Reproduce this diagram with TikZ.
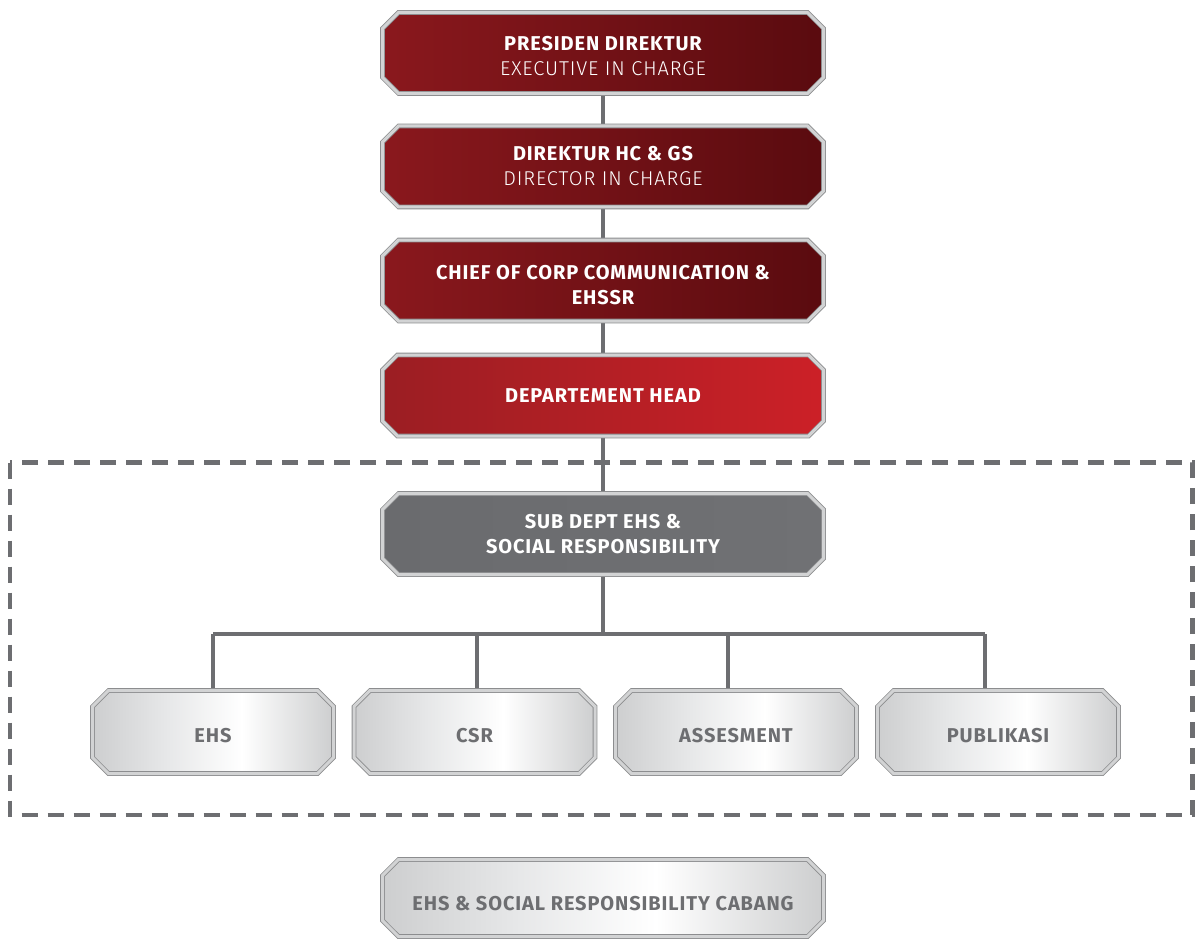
\documentclass[tikz,border=0pt]{standalone}
\usepackage{fontspec}
\setmainfont{Fira Sans}[LetterSpace=4.5]
\newfontfamily\lightf{Fira Sans Light}[LetterSpace=4.5]
\usetikzlibrary{shapes.misc,calc}
\definecolor{lineg}{HTML}{6D6E71}
\definecolor{rdL}{HTML}{8A181D}
\definecolor{rdR}{HTML}{5A0B0F}
\definecolor{dhL}{HTML}{9B1E23}
\definecolor{dhR}{HTML}{CC2027}
\definecolor{grL}{HTML}{6A6B6E}
\definecolor{grR}{HTML}{707174}
\definecolor{ltE}{HTML}{CDCECF}
\definecolor{ltM}{HTML}{E6E7E8}
\definecolor{rimO}{HTML}{8C8D8F}
\definecolor{rimI}{HTML}{D2D3D4}
\definecolor{txg}{HTML}{6D6E71}
\pgfdeclarehorizontalshading{liteshade}{100bp}{color(0bp)=(ltE); color(25bp)=(ltE); color(40bp)=(ltM); color(56bp)=(white); color(75bp)=(ltE); color(100bp)=(ltE)}
\newcommand{\dropline}[1]{\rule{0pt}{#1}}
\tikzset{
  boxbase/.style={chamfered rectangle, chamfered rectangle xsep=8pt, chamfered rectangle ysep=8pt,
    draw=rimO, double=rimI, double distance=3pt, line width=0.8pt,
    minimum width=441pt, minimum height=81pt, inner sep=0pt, align=center,
    font=\fontsize{20}{25}\selectfont\bfseries},
  redbox/.style={boxbase, left color=rdL, right color=rdR, text=white},
  dhbox/.style={boxbase, left color=dhL, right color=dhR, text=white},
  graybox/.style={boxbase, left color=grL, right color=grR, text=white},
  litebox/.style={boxbase, shading=liteshade, shading angle=0, text=txg},
  smallbox/.style={litebox, minimum width=241pt, minimum height=83pt},
  conn/.style={draw=lineg, line width=4pt},
  frame/.style={draw=lineg, line width=4.5pt, dash pattern=on 16pt off 10pt},
}
\begin{document}
\begin{tikzpicture}[x=1pt,y=-1pt]
\useasboundingbox (0,0) rectangle (1195,939);
\draw[frame] (10,462.5) rectangle (1192.5,815);
\coordinate (bar) at (603,634);
\coordinate (b1) at (213,634);
\coordinate (b2) at (477,634);
\coordinate (b3) at (728,634);
\coordinate (b4) at (985,634);
\draw[conn] (603,96) -- (603,124);
\draw[conn] (603,209) -- (603,238);
\draw[conn] (603,323) -- (603,353);
\draw[conn] (603,438) -- (603,491);
\draw[conn] (603,577) -- (bar);
\draw[conn] (b1) -- (b4);
\draw[conn] (b1) -- (213,690);
\draw[conn] (b2) -- (477,690);
\draw[conn] (b3) -- (728,690);
\draw[conn] (b4) -- (985,690);
\node[redbox] (p1) at (603,53) {\dropline{21pt}PRESIDEN DIREKTUR\\{\lightf\mdseries EXECUTIVE IN CHARGE}};
\node[redbox] (p2) at (603,166.5) {DIREKTUR HC \& GS\\{\lightf\mdseries DIRECTOR IN CHARGE}};
\node[redbox] (p3) at (603,280.5) {\dropline{23pt}CHIEF OF CORP COMMUNICATION \&\\EHSSR};
\node[dhbox] (dh) at (603,395.5) {DEPARTEMENT HEAD};
\node[graybox] (sub) at (603,534) {SUB DEPT EHS \&\\SOCIAL RESPONSIBILITY};
\node[smallbox] (ehs) at (213,732) {\dropline{21pt}EHS};
\node[smallbox] (csr) at (474.5,732) {\dropline{21pt}CSR};
\node[smallbox] (ass) at (736,732) {\dropline{21pt}ASSESMENT};
\node[smallbox] (pub) at (998,732) {\dropline{21pt}PUBLIKASI};
\node[litebox, minimum height=77pt] (cab) at (603,898) {\dropline{26pt}EHS \& SOCIAL RESPONSIBILITY CABANG};
\end{tikzpicture}
\end{document}
